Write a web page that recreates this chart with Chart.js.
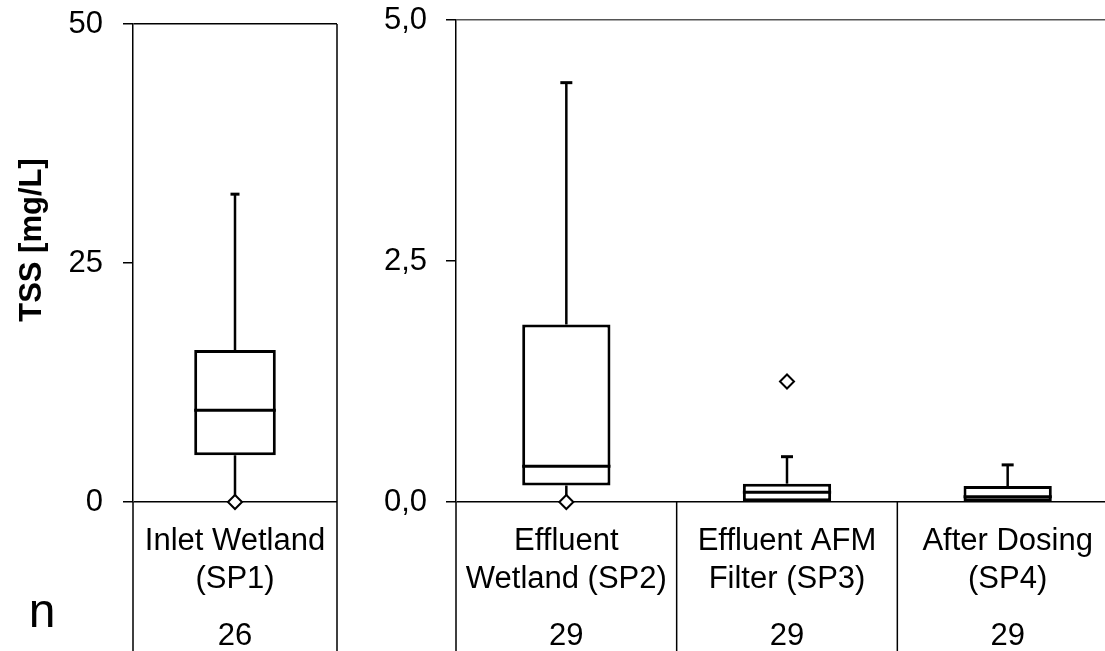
<!DOCTYPE html>
<html>
<head>
<meta charset="utf-8">
<script src="https://cdn.jsdelivr.net/npm/chart.js@4.4.1/dist/chart.umd.min.js"></script>
<style>
  html, body { margin: 0; padding: 0; background: #fff; }
  #wrap { position: relative; width: 1105px; height: 651px; overflow: hidden; }
  canvas { position: absolute; top: 0; }
  #leftChart { left: 0; }
  #rightChart { left: 340px; }
</style>
</head>
<body>
<div id="wrap">
  <canvas id="leftChart" width="340" height="651"></canvas>
  <canvas id="rightChart" width="800" height="651"></canvas>
</div>
<script>
// --- Data (TSS in mg/L) ---
const leftCategories = [['Inlet Wetland', '(SP1)']];
const leftCounts = [26];
const leftMin = [0];
const leftQ1 = [4.9];
const leftMedian = [9.6];
const leftQ3 = [15.9];
const leftMax = [32.2];
const leftOutliers = [0];
const leftTicks = [0, 25, 50];

const rightCategories = [['Effluent', 'Wetland (SP2)'], ['Effluent AFM', 'Filter (SP3)'], ['After Dosing', '(SP4)']];
const rightCounts = [29, 29, 29];
const rightMin = [0, 0, 0];
const rightQ1 = [0.17, 0, 0];
const rightMedian = [0.37, 0.10, 0.055];
const rightQ3 = [1.84, 0.19, 0.165];
const rightMax = [4.35, 0.47, 0.385];
const rightOutliers = [0, 1.25, null];
const rightTicks = [0, 2.5, 5];

const FONT = '"Liberation Sans", Arial, sans-serif';

// Whiskers, medians and the category table under the plot
function boxParts(stats) {
    return {
        id: 'boxParts',
        beforeDatasetsDraw(chart) {
            const ctx = chart.ctx;
            const y = chart.scales.y;
            const meta = chart.getDatasetMeta(0);
            ctx.save();
            ctx.strokeStyle = '#000';
            meta.data.forEach((bar, i) => {
                ctx.lineWidth = 2.5;
                ctx.beginPath();
                ctx.moveTo(bar.x, y.getPixelForValue(stats.q3[i]));
                ctx.lineTo(bar.x, y.getPixelForValue(stats.max[i]));
                if (stats.min[i] < stats.q1[i]) {
                    ctx.moveTo(bar.x, y.getPixelForValue(stats.q1[i]));
                    ctx.lineTo(bar.x, y.getPixelForValue(stats.min[i]));
                }
                ctx.stroke();
                // top cap
                const top = y.getPixelForValue(stats.max[i]);
                ctx.lineWidth = 3;
                ctx.beginPath();
                ctx.moveTo(bar.x - stats.cap / 2, top);
                ctx.lineTo(bar.x + stats.cap / 2, top);
                ctx.stroke();
            });
            ctx.restore();
        },
        afterDatasetsDraw(chart) {
            const ctx = chart.ctx;
            const y = chart.scales.y;
            const meta = chart.getDatasetMeta(0);
            ctx.save();
            ctx.strokeStyle = '#000';
            ctx.lineWidth = 3;
            meta.data.forEach((bar, i) => {
                const my = y.getPixelForValue(stats.median[i]);
                ctx.beginPath();
                ctx.moveTo(bar.x - bar.width / 2, my);
                ctx.lineTo(bar.x + bar.width / 2, my);
                ctx.stroke();
            });
            ctx.restore();
        },
        afterDraw(chart) {
            const ctx = chart.ctx;
            const area = chart.chartArea;
            const x = chart.scales.x;
            const labels = chart.data.labels;
            const colW = (area.right - area.left) / labels.length;
            ctx.save();
            ctx.strokeStyle = '#000';
            ctx.lineWidth = 1.5;
            ctx.beginPath();
            for (let i = 0; i <= labels.length; i++) {
                const bx = area.left + i * colW;
                ctx.moveTo(bx, area.bottom);
                ctx.lineTo(bx, chart.height);
            }
            if (stats.frameRight) {
                ctx.moveTo(area.right, area.top);
                ctx.lineTo(area.right, area.bottom);
            }
            ctx.stroke();

            ctx.fillStyle = '#000';
            ctx.textAlign = 'center';
            ctx.textBaseline = 'alphabetic';
            ctx.font = '31px ' + FONT;
            labels.forEach((lines, i) => {
                const cx = x.getPixelForValue(i);
                ctx.fillText(lines[0], cx, area.bottom + 48);
                ctx.fillText(lines[1], cx, area.bottom + 86);
                ctx.fillText(String(stats.counts[i]), cx, area.bottom + 143);
            });

            if (stats.title) {
                ctx.font = '48px ' + FONT;
                ctx.fillText('n', 42, 627);
                ctx.save();
                ctx.translate(32, 240);
                ctx.rotate(-Math.PI / 2);
                ctx.font = 'bold 31px ' + FONT;
                ctx.textBaseline = 'middle';
                ctx.fillText(stats.title, 0, 0);
                ctx.restore();
            }
            ctx.restore();
        }
    };
}

function makeBoxChart(id, cfg) {
    const ctx = document.getElementById(id).getContext('2d');
    const ticks = cfg.ticks;
    const yMax = ticks[ticks.length - 1];
    return new Chart(ctx, {
        type: 'bar',
        data: {
            labels: cfg.categories,
            datasets: [{
                data: cfg.q1.map((v, i) => [v, cfg.q3[i]]),
                backgroundColor: '#fff',
                borderColor: '#000',
                borderWidth: 3,
                borderSkipped: false,
                categoryPercentage: 1,
                barPercentage: 0.4,
                order: 1
            }, {
                type: 'line',
                data: cfg.outliers,
                showLine: false,
                clip: false,
                pointStyle: 'rectRot',
                pointRadius: 7,
                pointBackgroundColor: '#fff',
                pointBorderColor: '#000',
                pointBorderWidth: 2,
                order: 0
            }]
        },
        options: {
            responsive: false,
            animation: false,
            events: [],
            layout: { padding: cfg.padding, autoPadding: false },
            plugins: {
                legend: { display: false },
                tooltip: { enabled: false }
            },
            scales: {
                x: { display: false },
                y: {
                    min: ticks[0],
                    max: yMax,
                    afterFit: (scale) => {
                        scale.width = cfg.axisWidth;
                        scale.paddingTop = 0;
                        scale.paddingBottom = 0;
                    },
                    afterBuildTicks: (scale) => { scale.ticks = ticks.map(v => ({ value: v })); },
                    border: { display: true, color: '#000', width: 1.5 },
                    grid: {
                        drawOnChartArea: true,
                        tickLength: 10,
                        lineWidth: 1.5,
                        tickColor: '#000',
                        color: (c) => (c.tick && (c.tick.value === 0 || c.tick.value === yMax)) ? cfg.frameColor(c.tick.value) : 'rgba(0,0,0,0)'
                    },
                    ticks: {
                        color: '#000',
                        padding: cfg.tickPadding,
                        font: { family: FONT, size: 31 },
                        callback: cfg.format
                    }
                }
            }
        },
        plugins: [boxParts({
            q1: cfg.q1, q3: cfg.q3, median: cfg.median, min: cfg.min, max: cfg.max,
            counts: cfg.counts, cap: cfg.cap, frameRight: cfg.frameRight, title: cfg.title
        })]
    });
}

document.addEventListener('DOMContentLoaded', () => {
    makeBoxChart('leftChart', {
        categories: leftCategories, counts: leftCounts,
        min: leftMin, q1: leftQ1, median: leftMedian, q3: leftQ3, max: leftMax,
        outliers: leftOutliers, ticks: leftTicks,
        padding: { top: 24, bottom: 149, left: 0, right: 3 },
        axisWidth: 133, tickPadding: 20, cap: 9, frameRight: true,
        frameColor: () => '#000',
        title: 'TSS [mg/L]',
        format: (v) => String(v)
    });

    makeBoxChart('rightChart', {
        categories: rightCategories, counts: rightCounts,
        min: rightMin, q1: rightQ1, median: rightMedian, q3: rightQ3, max: rightMax,
        outliers: rightOutliers, ticks: rightTicks,
        padding: { top: 20, bottom: 149, left: 0, right: 22 },
        axisWidth: 116, tickPadding: 19, cap: 12, frameRight: false,
        frameColor: (v) => v === 0 ? '#000' : '#555',
        title: null,
        format: (v) => v.toFixed(1).replace('.', ',')
    });
});
</script>
</body>
</html>
